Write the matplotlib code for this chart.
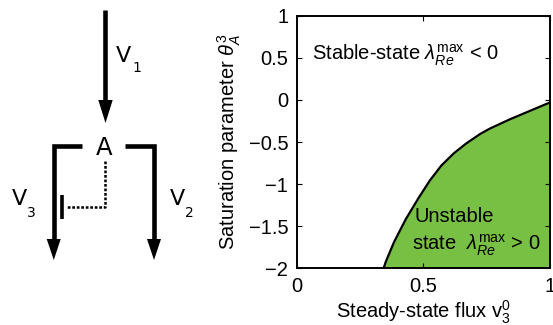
import matplotlib
matplotlib.use('Agg')
import matplotlib.pyplot as plt

plt.rcParams['font.family'] = ['Liberation Sans', 'DejaVu Sans']
plt.rcParams['mathtext.fontset'] = 'custom'
plt.rcParams['mathtext.rm'] = 'Liberation Sans'
plt.rcParams['mathtext.it'] = 'Liberation Sans:italic'
plt.rcParams['mathtext.bf'] = 'Liberation Sans:bold'

# boundary of the unstable region
flux_v3 = [0.343, 0.352, 0.384, 0.430, 0.480, 0.525, 0.571, 0.620, 0.668,
           0.724, 0.763, 0.842, 0.921, 1.0]
theta_A = [-2.0, -1.92, -1.69, -1.42, -1.17, -0.96, -0.78, -0.635, -0.52,
           -0.405, -0.34, -0.23, -0.13, -0.03]

x_ticks = [0, 0.5, 1]
x_tick_labels = ['0', '0.5', '1']
y_ticks = [-2, -1.5, -1, -0.5, 0, 0.5, 1]
y_tick_labels = ['\u22122', '\u22121.5', '\u22121', '\u22120.5', '0', '0.5', '1']

green = '#78c043'
W, H = 553, 325

fig = plt.figure(figsize=(W / 100, H / 100), dpi=100)

# --- pathway diagram (left), drawn in pixel coordinates ---
d = fig.add_axes([0, 0, 1, 1])
d.set_xlim(0, W)
d.set_ylim(H, 0)
d.axis('off')

lw = 3.3
d.plot([105.3, 105.3], [10, 102], color='black', lw=lw, solid_capstyle='butt')
d.fill([98.3, 112.7, 105.5], [100, 100, 123], color='black', lw=0)

d.plot([81.7, 53.8, 53.8], [146, 146, 241], color='black', lw=lw,
       solid_capstyle='butt', solid_joinstyle='miter')
d.fill([46.7, 60.7, 53.8], [239, 239, 260], color='black', lw=0)

d.plot([125, 154, 154], [146, 146, 241], color='black', lw=lw,
       solid_capstyle='butt', solid_joinstyle='miter')
d.fill([147, 161, 154], [239, 239, 260], color='black', lw=0)

# dotted inhibition from A onto v3
d.plot([105.3, 105.3, 66], [161, 206.7, 206.7], color='black', lw=1.8,
       linestyle=(0, (1.1, 0.7)), dash_capstyle='butt')
d.plot([61.7, 61.7], [195, 218.5], color='black', lw=2.6, solid_capstyle='butt')

dfont = dict(family='DejaVu Sans', color='black')
d.text(104, 155, 'A', fontsize=17.5, ha='center', va='baseline', **dfont)
d.text(116, 62, 'V', fontsize=16, ha='left', va='baseline', **dfont)
d.text(132, 72, '1', fontsize=10, ha='left', va='baseline', **dfont)
d.text(11.5, 205, 'V', fontsize=16, ha='left', va='baseline', **dfont)
d.text(27, 217, '3', fontsize=10, ha='left', va='baseline', **dfont)
d.text(169.5, 205, 'V', fontsize=16, ha='left', va='baseline', **dfont)
d.text(185.5, 217, '2', fontsize=10, ha='left', va='baseline', **dfont)

# --- stability diagram (right) ---
ax = fig.add_axes([296.7 / W, (H - 268.3) / H, 253.3 / W, 252.6 / H])
ax.fill_between(flux_v3, -2, theta_A, color=green, lw=0)
ax.plot(flux_v3, theta_A, color='black', lw=1.6)

ax.set_xlim(0, 1)
ax.set_ylim(-2, 1)
ax.set_xticks(x_ticks)
ax.set_xticklabels(x_tick_labels)
ax.set_yticks(y_ticks)
ax.set_yticklabels(y_tick_labels)
ax.tick_params(axis='both', direction='in', length=3.5, width=0.8,
               labelsize=14.5, top=True, right=True, pad=6)
for s in ax.spines.values():
    s.set_linewidth(1.4)

ax.set_xlabel(r'Steady-state flux v$_3^0$', fontsize=14.5, labelpad=2)
ax.set_ylabel(r'Saturation parameter $\theta_A^3$', fontsize=14.5, labelpad=4)

ax.text(0.06, 0.47, r'Stable-state $\lambda^{\mathrm{max}}_{Re}$ < 0',
        fontsize=14.5, ha='left', va='baseline')
ax.text(0.467, -1.447, 'Unstable', fontsize=14.5, ha='left', va='baseline')
ax.text(0.454, -1.783, r'state  $\lambda^{\mathrm{max}}_{Re}$ > 0',
        fontsize=14.5, ha='left', va='baseline')

plt.savefig('out.png', dpi=100)
plt.close()
